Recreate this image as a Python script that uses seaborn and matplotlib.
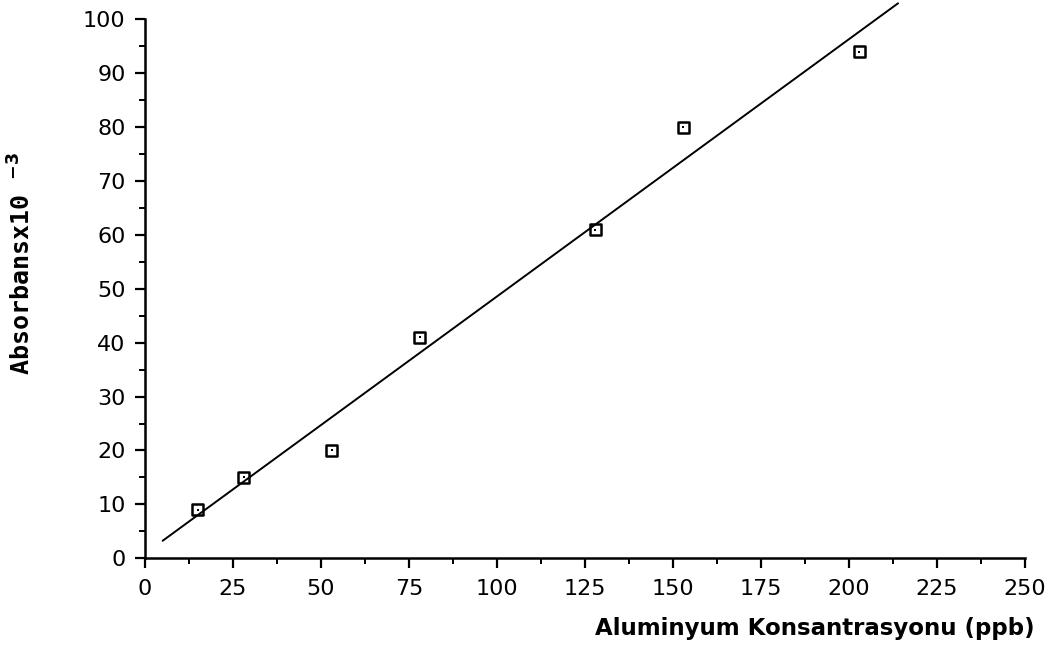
import numpy as np
import pandas as pd
import matplotlib
matplotlib.use("Agg")
import matplotlib.pyplot as plt
import seaborn as sns
from matplotlib.ticker import MultipleLocator

# calibration points
concentration = [15, 28, 53, 78, 128, 153, 203]   # ppb
absorbance = [9, 15, 20, 41, 61, 80, 94]          # x10^-3
fit_span = [5, 214]                               # where the fitted line is drawn

X_LABEL = "Aluminyum Konsantrasyonu (ppb)"
Y_LABEL = r"Absorbansx10 $^{\mathbf{-3}}$"

sns.set_theme(style="ticks")
plt.rcParams["font.family"] = ["DejaVu Sans"]

df = pd.DataFrame({"conc": concentration, "abs": absorbance})
slope, intercept = np.polyfit(df["conc"], df["abs"], 1)
fit = pd.DataFrame({"conc": fit_span})
fit["abs"] = slope * fit["conc"] + intercept

fig = plt.figure(figsize=(10.51, 6.67), dpi=100)
ax = fig.add_axes([0.138, 0.163, 0.837, 0.808])

sns.lineplot(data=fit, x="conc", y="abs", ax=ax, color="black", linewidth=1.4)
for ln in ax.lines:
    ln.set_clip_on(False)

sns.scatterplot(data=df, x="conc", y="abs", ax=ax, marker="s", s=60,
                fc="none", ec="black", linewidth=1.8, zorder=3, clip_on=False)
sns.scatterplot(data=df, x="conc", y="abs", ax=ax, marker="s", s=4,
                color="black", linewidth=0, zorder=4, clip_on=False)

ax.set_xlim(0, 250)
ax.set_ylim(0, 100)
ax.xaxis.set_major_locator(MultipleLocator(25))
ax.xaxis.set_minor_locator(MultipleLocator(12.5))
ax.yaxis.set_major_locator(MultipleLocator(10))
ax.yaxis.set_minor_locator(MultipleLocator(5))

ax.tick_params(which="major", direction="out", length=7, width=1.6,
               labelsize=16, color="black", labelcolor="black")
ax.tick_params(which="minor", direction="out", length=4.5, width=1.4, color="black")
ax.tick_params(axis="x", which="major", pad=8)
ax.tick_params(axis="y", which="major", pad=7)

sns.despine(ax=ax)
for side in ["left", "bottom"]:
    ax.spines[side].set_linewidth(1.8)
    ax.spines[side].set_color("black")
ax.patch.set_alpha(0)

ax.set_xlabel(X_LABEL, fontsize=16.5, fontweight="bold", color="black", ha="right", va="center")
ax.xaxis.set_label_coords(1.011, -0.13)
ax.set_ylabel(Y_LABEL, fontsize=18, fontweight="bold", color="black",
              family="DejaVu Sans Mono", va="center")
ax.yaxis.set_label_coords(-0.14, 0.547)

fig.savefig("out.png", dpi=100)
